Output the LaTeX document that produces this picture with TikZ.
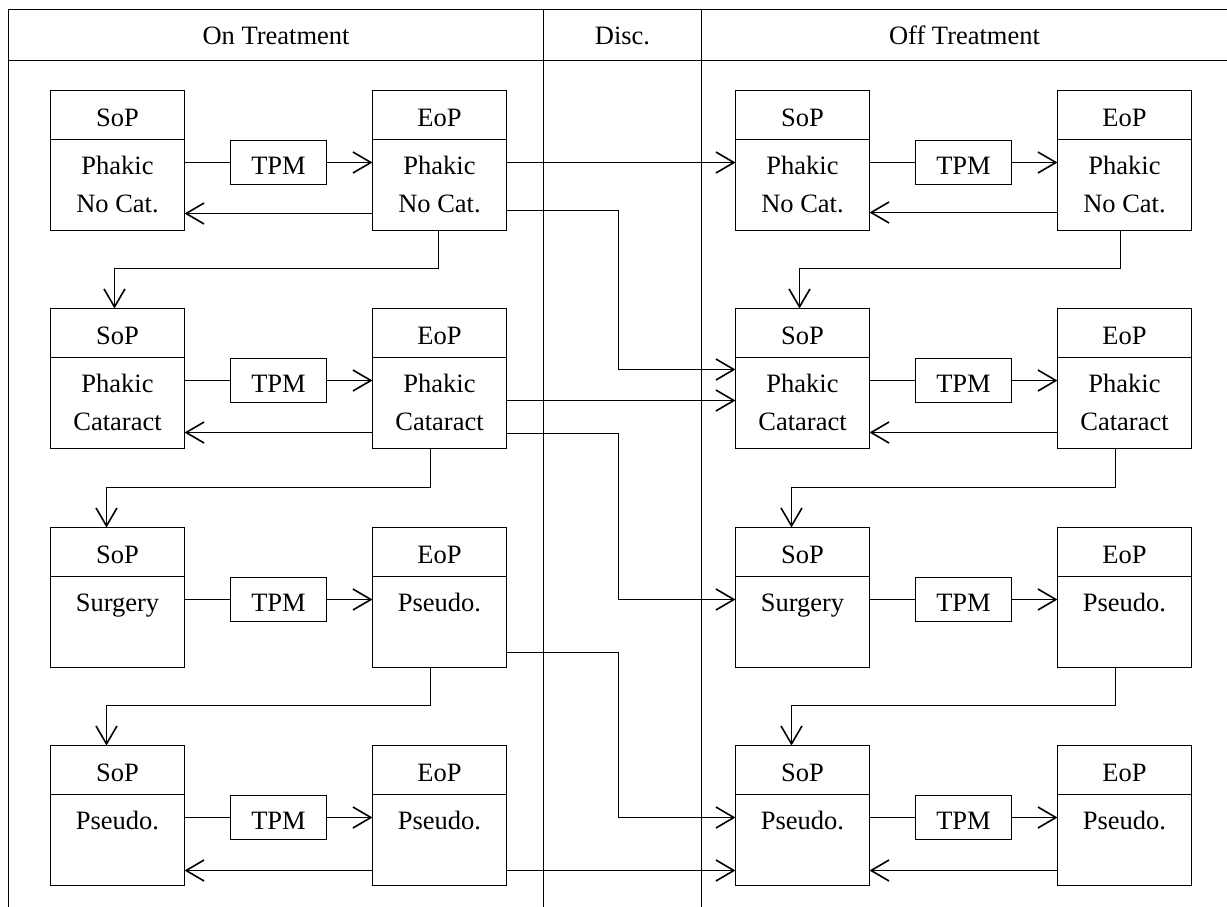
\documentclass[tikz,border=0pt]{standalone}
\usepackage{fontspec}
\setmainfont{Liberation Serif}
\usetikzlibrary{arrows.meta}
\newcommand\statebox[6]{%
  \node[sbox] (#1) at (#2+67,#3+70) {};
  \draw ([yshift=-49pt]#1.north west) -- ([yshift=-49pt]#1.north east);
  \node[txt] at (#2+67,#3+36) {#4};
  \node[txt] at (#2+67,#3+84) {#5};
  \node[txt] at (#2+67,#3+122) {#6};
}
\begin{document}
\begin{tikzpicture}[x=1pt,y=-1pt,line width=1.6pt,
  txt/.style={anchor=base,inner sep=0pt,font=\fontsize{26.5}{30}\selectfont},
  sbox/.style={draw,minimum width=134pt,minimum height=140pt,inner sep=0pt,outer sep=0pt},
  tpm/.style={draw,minimum width=96pt,minimum height=44pt,inner sep=0pt,outer sep=0pt,text height=23pt,text depth=0pt,font=\fontsize{26.5}{30}\selectfont},
  arr/.style={-{Straight Barb[length=18pt,width=21pt]}}]
\useasboundingbox (0,0) rectangle (1227,906);
\begin{scope}[shift={(0.5,0.5)}]
% table frame
\draw (8,910) -- (8,9) -- (1230,9);
\draw (8,60) -- (1230,60);
\draw (543,9) -- (543,910);
\draw (701,9) -- (701,910);
\node[txt] (hon) at (275.5,44) {On Treatment};
\node[txt] (hdisc) at (622,44) {Disc.};
\node[txt] (hoff) at (964,44) {Off Treatment};
% row 1
\statebox{s1}{50}{90}{SoP}{Phakic}{No Cat.}
\statebox{e1}{372}{90}{EoP}{Phakic}{No Cat.}
\statebox{S1}{735}{90}{SoP}{Phakic}{No Cat.}
\statebox{E1}{1057}{90}{EoP}{Phakic}{No Cat.}
% row 2
\statebox{s2}{50}{308}{SoP}{Phakic}{Cataract}
\statebox{e2}{372}{308}{EoP}{Phakic}{Cataract}
\statebox{S2}{735}{308}{SoP}{Phakic}{Cataract}
\statebox{E2}{1057}{308}{EoP}{Phakic}{Cataract}
% row 3
\statebox{s3}{50}{527}{SoP}{Surgery}{}
\statebox{e3}{372}{527}{EoP}{Pseudo.}{}
\statebox{S3}{735}{527}{SoP}{Surgery}{}
\statebox{E3}{1057}{527}{EoP}{Pseudo.}{}
% row 4
\statebox{s4}{50}{745}{SoP}{Pseudo.}{}
\statebox{e4}{372}{745}{EoP}{Pseudo.}{}
\statebox{S4}{735}{745}{SoP}{Pseudo.}{}
\statebox{E4}{1057}{745}{EoP}{Pseudo.}{}
% TPM boxes
\node[tpm] (t1) at (278,162) {TPM};
\node[tpm] (t2) at (278,380) {TPM};
\node[tpm] (t3) at (278,599) {TPM};
\node[tpm] (t4) at (278,817) {TPM};
\node[tpm] (T1) at (963,162) {TPM};
\node[tpm] (T2) at (963,380) {TPM};
\node[tpm] (T3) at (963,599) {TPM};
\node[tpm] (T4) at (963,817) {TPM};
% TPM connectors
\foreach \a/\t/\b in {s1/t1/e1,s2/t2/e2,s3/t3/e3,s4/t4/e4,S1/T1/E1,S2/T2/E2,S3/T3/E3,S4/T4/E4}{
  \draw (\t.west -| \a.east) -- (\t.west);
  \draw[arr] (\t.east) -- (\t.east -| \b.west);
}
% back arrows
\draw[arr] ([yshift=-123pt]e1.north west) -- ([yshift=-123pt]s1.north east);
\draw[arr] ([yshift=-124pt]e2.north west) -- ([yshift=-124pt]s2.north east);
\draw[arr] ([yshift=-125pt]e4.north west) -- ([yshift=-125pt]s4.north east);
\draw[arr] ([yshift=-122pt]E1.north west) -- ([yshift=-122pt]S1.north east);
\draw[arr] ([yshift=-124pt]E2.north west) -- ([yshift=-124pt]S2.north east);
\draw[arr] ([yshift=-125pt]E4.north west) -- ([yshift=-125pt]S4.north east);
% down connectors
\draw[arr] ([xshift=-1pt]e1.south) -- ++(0,38) -| ([xshift=-3pt]s2.north);
\draw[arr] ([xshift=-9pt]e2.south) -- ++(0,39) -| ([xshift=-11pt]s3.north);
\draw[arr] ([xshift=-9pt]e3.south) -- ++(0,38) -| ([xshift=-11pt]s4.north);
\draw[arr] ([xshift=-4pt]E1.south) -- ++(0,38) -| ([xshift=-3pt]S2.north);
\draw[arr] ([xshift=-9pt]E2.south) -- ++(0,39) -| ([xshift=-11pt]S3.north);
\draw[arr] ([xshift=-9pt]E3.south) -- ++(0,38) -| ([xshift=-11pt]S4.north);
% cross connectors
\draw[arr] (e1.east |- t1) -- (S1.west |- T1);
\draw[arr] ([yshift=-120pt]e1.north east) -- ++(112,0) |- ([yshift=-61pt]S2.north west);
\draw[arr] ([yshift=-92pt]e2.north east) -- ([yshift=-92pt]S2.north west);
\draw[arr] ([yshift=-125pt]e2.north east) -- ++(112,0) |- (S3.west |- T3);
\draw[arr] ([yshift=-125pt]e3.north east) -- ++(112,0) |- (S4.west |- T4);
\draw[arr] ([yshift=-125pt]e4.north east) -- ([yshift=-125pt]S4.north west);
\end{scope}
\end{tikzpicture}
\end{document}
